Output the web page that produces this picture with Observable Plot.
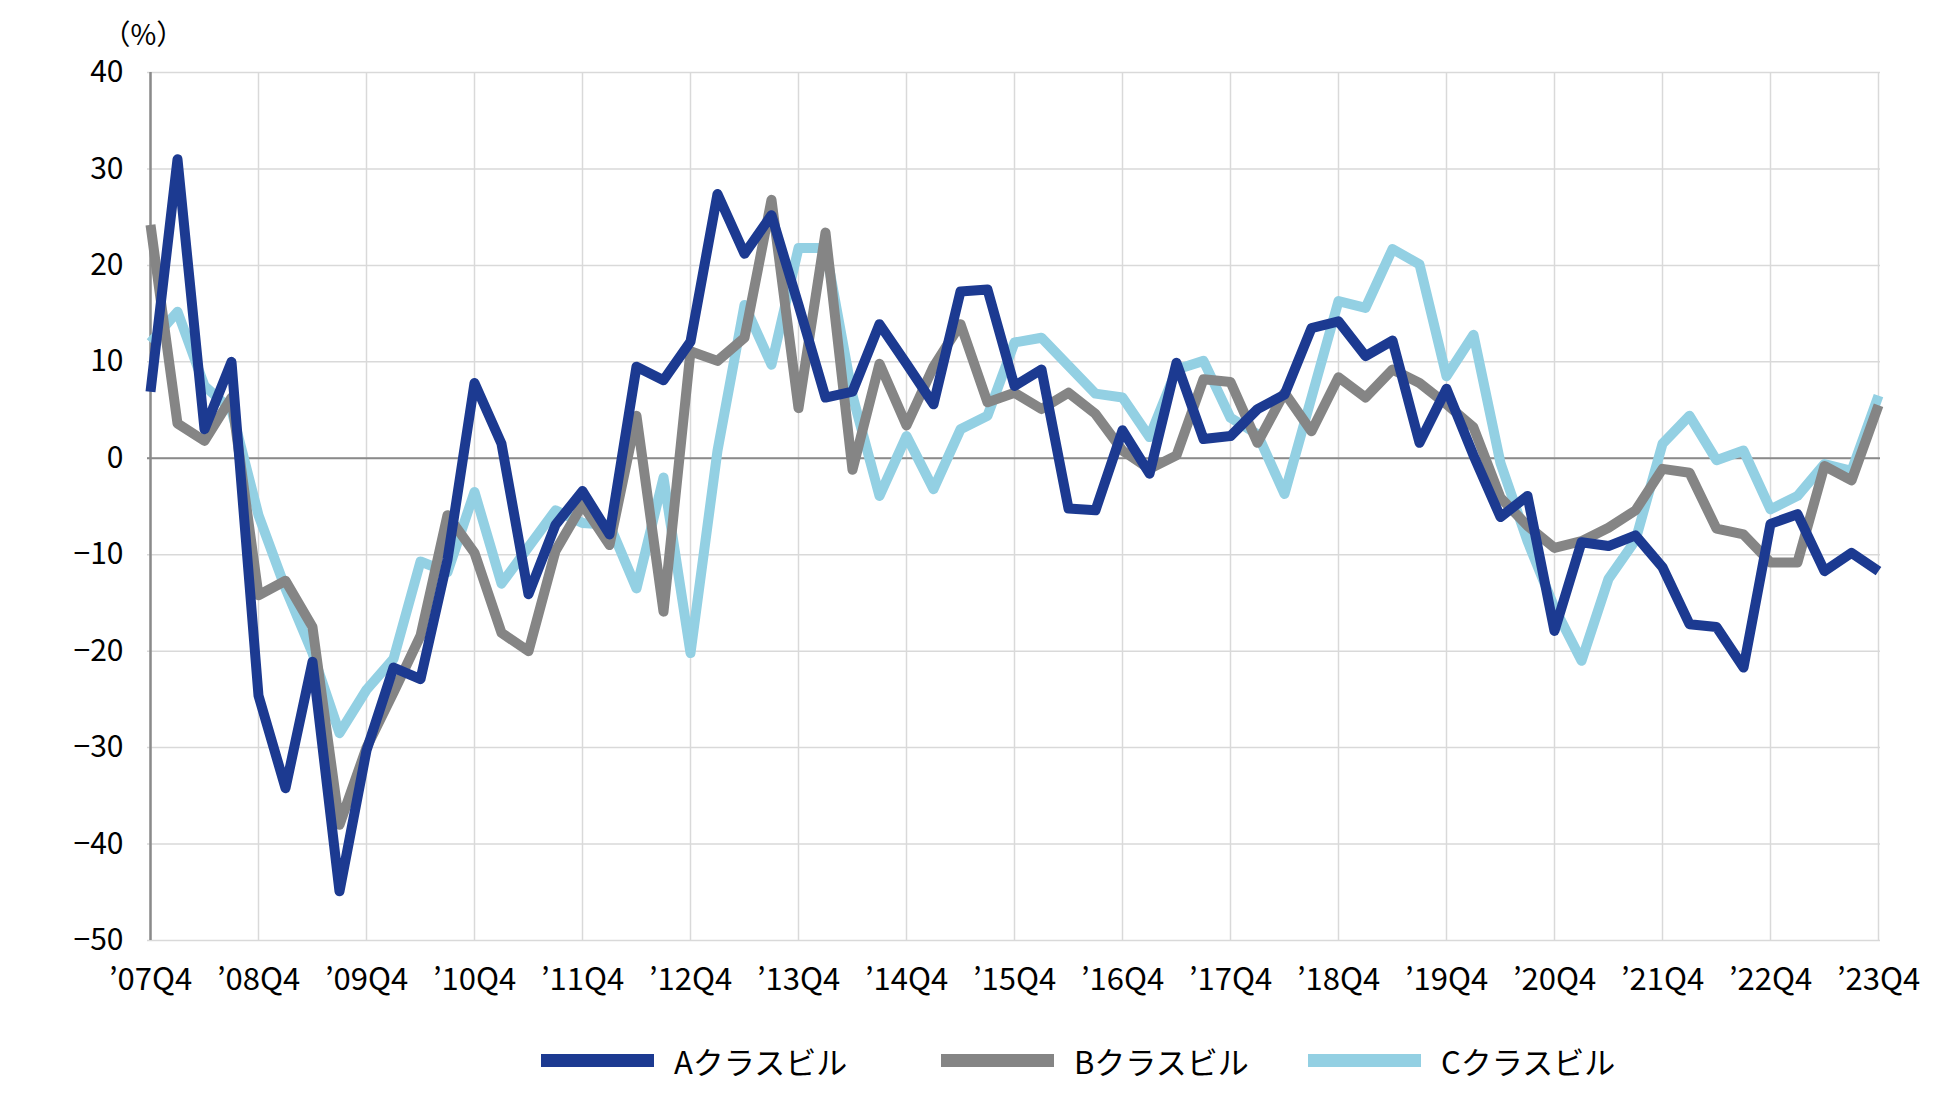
<!DOCTYPE html>
<html>
<head>
<meta charset="utf-8">
<script src="https://cdn.jsdelivr.net/npm/d3@7"></script>
<script src="https://cdn.jsdelivr.net/npm/@observablehq/plot@0.6"></script>
<style>
  html, body { margin: 0; padding: 0; background: #fff; }
  #wrap { position: relative; width: 1950px; height: 1102px; font-family: "Noto Sans CJK JP", "Noto Sans", sans-serif; }
  #legend { position: absolute; top: 1010px; left: 0; width: 1950px; height: 92px; }
  .item { position: absolute; top: 28px; display: flex; align-items: center; font-size: 31px; color: #000; }
  .sw { width: 113px; height: 13px; margin-right: 20px; }
</style>
</head>
<body>
<div id="wrap">
  <div id="chart"></div>
  <div id="legend"></div>
</div>
<script>
const quarters = [
  "07Q4",
  "08Q1","08Q2","08Q3","08Q4",
  "09Q1","09Q2","09Q3","09Q4",
  "10Q1","10Q2","10Q3","10Q4",
  "11Q1","11Q2","11Q3","11Q4",
  "12Q1","12Q2","12Q3","12Q4",
  "13Q1","13Q2","13Q3","13Q4",
  "14Q1","14Q2","14Q3","14Q4",
  "15Q1","15Q2","15Q3","15Q4",
  "16Q1","16Q2","16Q3","16Q4",
  "17Q1","17Q2","17Q3","17Q4",
  "18Q1","18Q2","18Q3","18Q4",
  "19Q1","19Q2","19Q3","19Q4",
  "20Q1","20Q2","20Q3","20Q4",
  "21Q1","21Q2","21Q3","21Q4",
  "22Q1","22Q2","22Q3","22Q4",
  "23Q1","23Q2","23Q3","23Q4"
];

const xTicks = ["07Q4","08Q4","09Q4","10Q4","11Q4","12Q4","13Q4","14Q4","15Q4","16Q4","17Q4","18Q4","19Q4","20Q4","21Q4","22Q4","23Q4"];
const yTicks = [40, 30, 20, 10, 0, -10, -20, -30, -40, -50];

const seriesNames = ["Aクラスビル", "Bクラスビル", "Cクラスビル"];
const seriesColors = ["#1c3a91", "#858585", "#93d0e3"];

const classA = [6.9, 31.0, 3.0, 10.0, -24.6, -34.2, -21.1, -44.9, -30.3, -21.7,
  -22.9, -10.5, 7.8, 1.5, -14.1, -6.9, -3.4, -7.9, 9.5, 8.1,
  12.1, 27.4, 21.2, 25.2, 15.9, 6.3, 6.9, 13.9, 9.8, 5.6,
  17.3, 17.5, 7.5, 9.2, -5.2, -5.4, 2.9, -1.6, 9.9, 2.0,
  2.3, 5.1, 6.6, 13.5, 14.2, 10.6, 12.2, 1.6, 7.2, 0.3,
  -6.1, -3.9, -17.9, -8.7, -9.1, -8.0, -11.3, -17.2, -17.5, -21.7,
  -6.8, -5.8, -11.7, -9.8, -11.7];

const classB = [24.2, 3.6, 1.8, 6.3, -14.2, -12.7, -17.5, -38.0, -30.0, -24.3,
  -18.4, -5.9, -9.8, -18.1, -20.0, -9.6, -4.8, -9.0, 4.4, -15.9,
  11.1, 10.1, 12.5, 26.8, 5.2, 23.4, -1.2, 9.8, 3.4, 9.5,
  13.9, 5.8, 6.8, 5.1, 6.8, 4.6, 0.8, -1.1, 0.3, 8.2,
  7.9, 1.6, 6.8, 2.8, 8.4, 6.3, 9.2, 7.8, 5.6, 3.2,
  -4.1, -7.0, -9.3, -8.6, -7.2, -5.4, -1.1, -1.5, -7.3, -7.9,
  -10.8, -10.8, -0.8, -2.3, 5.5];

const classC = [12.0, 15.2, 7.5, 5.0, -5.9, -13.5, -20.2, -28.5, -24.0, -20.8,
  -10.7, -11.8, -3.5, -13.0, -9.2, -5.4, -6.7, -6.9, -13.5, -2.0,
  -20.2, 0.8, 15.9, 9.7, 21.8, 21.8, 6.5, -3.9, 2.3, -3.2,
  3.0, 4.4, 12.0, 12.5, 9.6, 6.7, 6.3, 2.2, 9.2, 10.1,
  4.2, 2.5, -3.7, 6.3, 16.3, 15.6, 21.7, 20.1, 8.5, 12.8,
  -0.5, -8.6, -15.5, -21.0, -12.5, -8.5, 1.5, 4.4, -0.2, 0.8,
  -5.3, -3.9, -0.6, -1.3, 6.5];

// draw order: C (bottom), B, A (top)
const rows = [];
[[seriesNames[2], classC], [seriesNames[1], classB], [seriesNames[0], classA]].forEach(([name, vals]) => {
  vals.forEach((v, i) => rows.push({ s: name, q: quarters[i], v }));
});

const fmtY = d => d < 0 ? "\u2212" + Math.abs(d) : String(d);

const chart = Plot.plot({
  width: 1950,
  height: 1010,
  marginTop: 72,
  marginBottom: 70,
  marginLeft: 147,
  marginRight: 70,
  style: { fontFamily: "'Noto Sans CJK JP', 'Noto Sans', sans-serif", fontSize: "30px", color: "#000", background: "#fff" },
  x: { type: "point", domain: quarters, padding: 0 },
  y: { domain: [-50, 40] },
  color: { domain: seriesNames, range: seriesColors },
  marks: [
    Plot.gridY(yTicks, { stroke: "#d9d9d9", strokeOpacity: 1, strokeWidth: 1.5 }),
    Plot.gridX(xTicks, { stroke: "#d9d9d9", strokeOpacity: 1, strokeWidth: 1.5 }),
    Plot.ruleY([0], { stroke: "#8a8a8a", strokeWidth: 2 }),
    Plot.ruleX([quarters[0]], { stroke: "#8a8a8a", strokeWidth: 2.5 }),
    Plot.axisY(yTicks, { tickSize: 0, tickPadding: 24, tickFormat: fmtY, label: null, fontSize: 30 }),
    Plot.axisX(xTicks, { tickSize: 0, tickPadding: 27, tickFormat: d => "\u2019" + d, label: null, fontSize: 31 }),
    Plot.line(rows, { x: "q", y: "v", z: "s", stroke: "s", strokeWidth: 10, strokeLinejoin: "round", strokeLinecap: "butt" }),
    Plot.text(["（%）"], { frameAnchor: "top-left", dx: -45, dy: -36, lineAnchor: "middle", textAnchor: "start", fontSize: 28, fill: "#000" })
  ]
});
document.getElementById("chart").appendChild(chart);

const legend = document.getElementById("legend");
const lefts = [541, 941, 1308];
seriesNames.forEach((name, i) => {
  const item = document.createElement("div");
  item.className = "item";
  item.style.left = lefts[i] + "px";
  const sw = document.createElement("div");
  sw.className = "sw";
  sw.style.background = seriesColors[i];
  const label = document.createElement("span");
  label.textContent = name;
  item.appendChild(sw);
  item.appendChild(label);
  legend.appendChild(item);
});
</script>
</body>
</html>
